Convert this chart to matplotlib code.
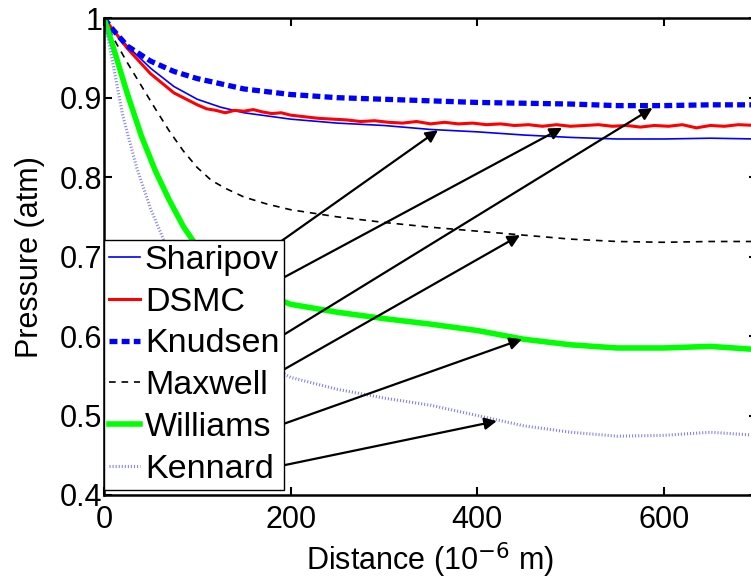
import numpy as np
import matplotlib
matplotlib.use("Agg")
import matplotlib.pyplot as plt

plt.rcParams['font.family'] = ['Liberation Sans', 'DejaVu Sans']

# Sharipov
sha_x = [0, 6, 25, 50, 75, 100, 125, 150, 200, 250, 300, 350, 400, 450, 500, 550, 600, 650, 700]
sha_y = [1.0, 0.99, 0.965, 0.937, 0.914, 0.898, 0.888, 0.881, 0.873, 0.868, 0.865, 0.860, 0.857,
         0.853, 0.850, 0.848, 0.848, 0.849, 0.848]

# DSMC (noisy)
dsmc_x = [0, 10, 25, 50, 75, 100, 110, 120, 130, 140, 150, 160, 170, 180, 190, 200, 215, 230, 245,
          260, 275, 290, 305, 320, 335, 350, 365, 380, 395, 410, 425, 440, 455, 470, 485, 500,
          515, 530, 545, 560, 575, 590, 605, 620, 635, 650, 665, 680, 700]
dsmc_y = [1.0, 0.985, 0.962, 0.930, 0.906, 0.891, 0.886, 0.884, 0.881, 0.884, 0.883, 0.885, 0.882,
          0.880, 0.881, 0.878, 0.876, 0.874, 0.873, 0.872, 0.870, 0.871, 0.869, 0.868, 0.870, 0.867,
          0.869, 0.867, 0.868, 0.866, 0.867, 0.865, 0.866, 0.864, 0.866, 0.864, 0.865, 0.866, 0.864,
          0.865, 0.863, 0.865, 0.864, 0.866, 0.862, 0.865, 0.864, 0.866, 0.865]

# Knudsen
knu_x = [0, 10, 25, 50, 75, 100, 150, 200, 250, 300, 350, 400, 450, 500, 550, 600, 650, 700]
knu_y = [1.0, 0.985, 0.965, 0.946, 0.933, 0.924, 0.911, 0.904, 0.900, 0.898, 0.896, 0.894, 0.893,
         0.892, 0.890, 0.890, 0.891, 0.891]

# Maxwell
max_x = [0, 10, 25, 40, 55, 70, 85, 100, 115, 130, 150, 175, 200, 250, 300, 350, 400, 450, 500,
         550, 600, 650, 700]
max_y = [1.0, 0.975, 0.944, 0.915, 0.886, 0.858, 0.833, 0.812, 0.796, 0.786, 0.775, 0.766, 0.759,
         0.750, 0.743, 0.737, 0.732, 0.727, 0.722, 0.719, 0.718, 0.719, 0.719]

# Williams
wil_x = [0, 10, 25, 40, 55, 70, 85, 100, 125, 150, 200, 250, 300, 350, 400, 450, 500, 550, 600,
         650, 700]
wil_y = [1.0, 0.963, 0.905, 0.852, 0.808, 0.771, 0.738, 0.712, 0.682, 0.663, 0.640, 0.630, 0.622,
         0.615, 0.607, 0.596, 0.589, 0.585, 0.585, 0.587, 0.583]

# Kennard
ken_x = [0, 10, 20, 35, 50, 75, 100, 150, 200, 250, 300, 350, 400, 450, 500, 550, 600, 650, 700]
ken_y = [1.0, 0.94, 0.878, 0.812, 0.760, 0.690, 0.640, 0.580, 0.548, 0.533, 0.522, 0.513, 0.500,
         0.487, 0.479, 0.474, 0.475, 0.479, 0.475]

# arrow start (label) -> head (curve), data coords
arrow_start = [(181, 0.712), (152, 0.648), (189, 0.599), (178, 0.548), (189, 0.488), (183, 0.435)]
arrow_head = [(358, 0.859), (491, 0.862), (588, 0.887), (446, 0.727), (448, 0.596), (421, 0.493)]

fig = plt.figure(figsize=(7.51, 5.80), dpi=100)
ax = fig.add_axes([0.1385, 0.1466, 0.8695, 0.822])

ax.plot(sha_x, sha_y, color='#0000ff', lw=1.2, label='Sharipov')
ax.plot(dsmc_x, dsmc_y, color='#ff0000', lw=2.2, label='DSMC')
ax.plot(knu_x, knu_y, color='#0000ff', lw=3.8, ls=(0, (1.5, 0.8)), label='Knudsen')
ax.plot(max_x, max_y, color='black', lw=1.2, ls=(0, (4, 3.5)), label='Maxwell')
ax.plot(wil_x, wil_y, color='#00ff00', lw=4, label='Williams')
ax.plot(ken_x, ken_y, color='#8080ff', lw=2.2, ls=(0, (0.35, 0.65)), label='Kennard')

for s, h in zip(arrow_start, arrow_head):
    ax.annotate('', xy=h, xytext=s,
                arrowprops=dict(arrowstyle='-|>', color='black', lw=1.6,
                                mutation_scale=18, shrinkA=0, shrinkB=0))

ax.set_xlim(0, 700)
ax.set_ylim(0.4, 1.0)
ax.set_xticks([0, 200, 400, 600])
ax.set_yticks([0.4, 0.5, 0.6, 0.7, 0.8, 0.9, 1.0])
ax.set_yticklabels(['0.4', '0.5', '0.6', '0.7', '0.8', '0.9', '1'])
ax.tick_params(direction='in', length=6, width=1.5, labelsize=22, top=True, right=True)
ax.tick_params(axis='x', pad=7)
ax.tick_params(axis='y', pad=1)
for sp in ax.spines.values():
    sp.set_linewidth(1.8)

ax.set_xlabel('Distance (10$^{-6}$ m)', fontsize=22, labelpad=4)
ax.set_ylabel('Pressure (atm)', fontsize=22)
ax.yaxis.set_label_coords(-0.09, 0.5)

leg = ax.legend(loc='lower left', bbox_to_anchor=(0, 0.01), fontsize=24.5, frameon=True,
                fancybox=False, edgecolor='black', framealpha=1, borderaxespad=0,
                handlelength=0.9, handletextpad=0.15, labelspacing=0.32, borderpad=0.15)
leg.get_frame().set_linewidth(1.0)

fig.savefig('out.png', dpi=100)
